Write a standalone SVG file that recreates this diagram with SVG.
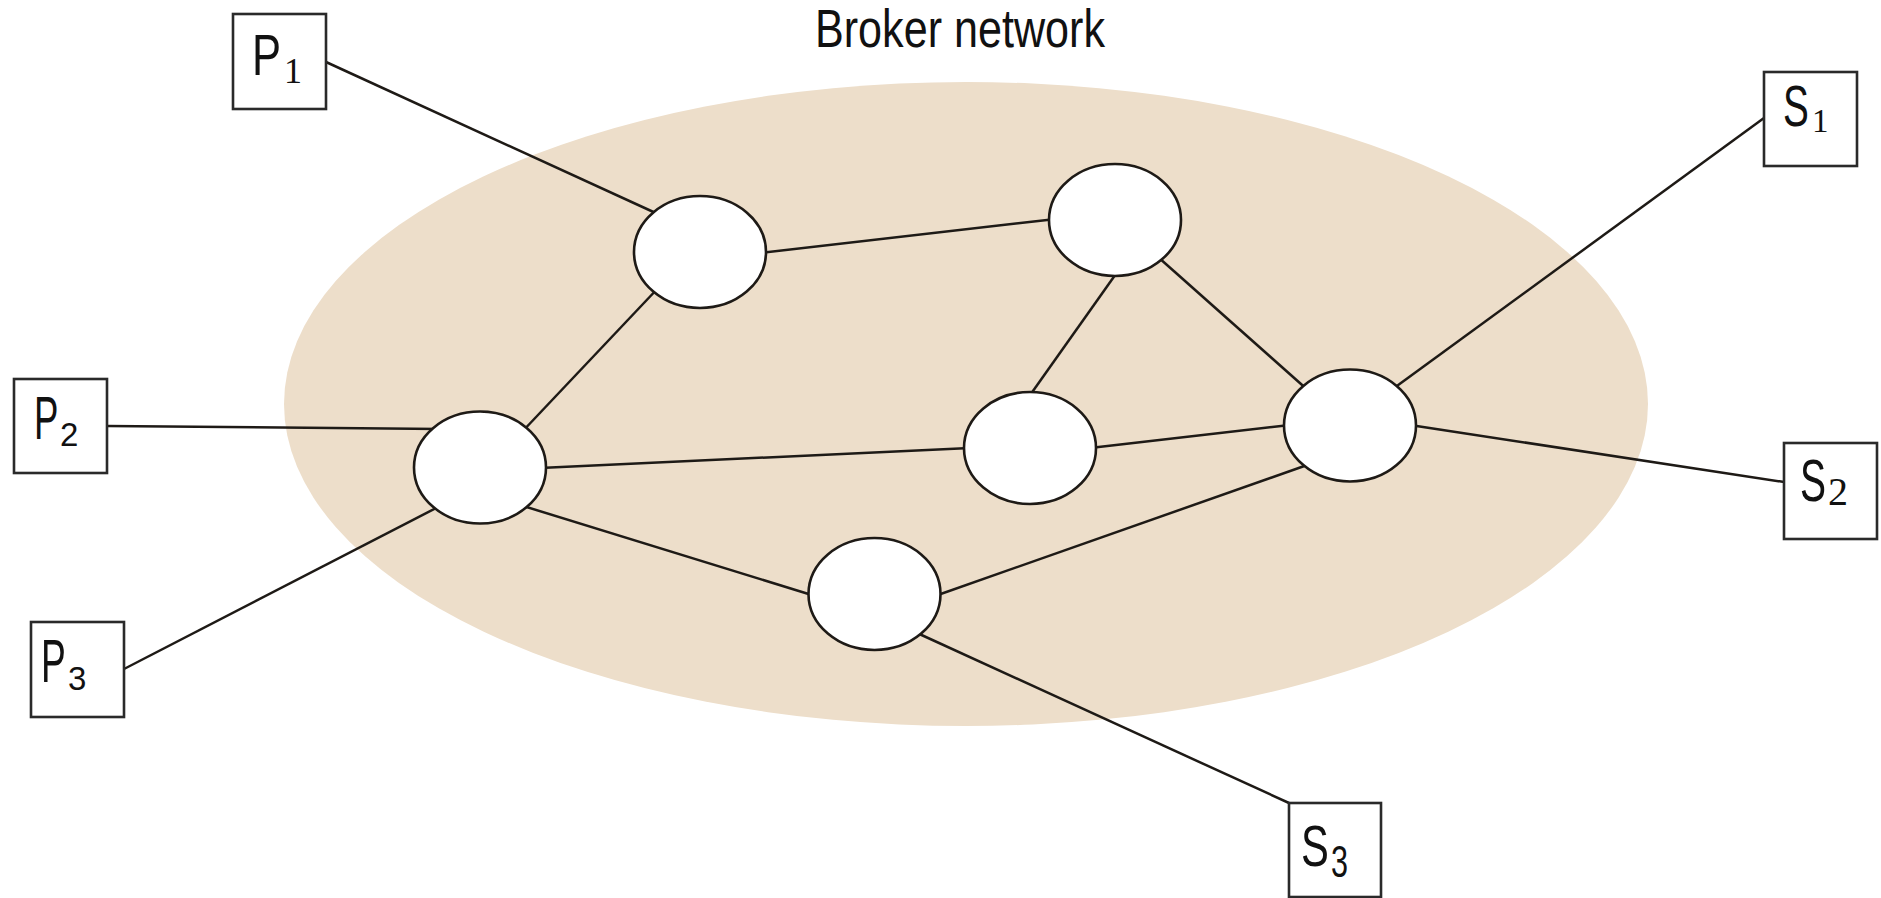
<svg xmlns="http://www.w3.org/2000/svg" width="1881" height="898" viewBox="0 0 1881 898">
  <style>
    .bg { fill: #EDDECA; }
    .broker { fill: #ffffff; stroke: #1e1a16; stroke-width: 2.6; }
    .box { fill: #ffffff; stroke: #2a2a2a; stroke-width: 2.6; }
    .edge { stroke: #1e1a16; stroke-width: 2.5; fill: none; }
    .lbl { font-family: "Liberation Sans", Arial, sans-serif; fill: #111; }
    .serif { font-family: "Liberation Serif", "Times New Roman", serif; fill: #111; }
    .title { font-family: "Liberation Sans", Arial, sans-serif; font-size: 53px; fill: #111; }
  </style>
  <rect x="0" y="0" width="1881" height="898" fill="#ffffff"/>
  <ellipse class="bg" cx="966" cy="404" rx="682" ry="322"/>
  <text class="title" x="815" y="47" textLength="290" lengthAdjust="spacingAndGlyphs">Broker network</text>

  <g id="connectors">
    <line class="edge" x1="326" y1="62" x2="660" y2="215"/>
    <line class="edge" x1="760" y1="253" x2="1056" y2="219"/>
    <line class="edge" x1="660" y1="286" x2="520" y2="434"/>
    <line class="edge" x1="107" y1="426" x2="440" y2="429"/>
    <line class="edge" x1="540" y1="468" x2="970" y2="448"/>
    <line class="edge" x1="440" y1="506" x2="124" y2="669"/>
    <line class="edge" x1="520" y1="505" x2="815" y2="596"/>
    <line class="edge" x1="1118" y1="271" x2="1028" y2="398"/>
    <line class="edge" x1="1158" y1="257" x2="1310" y2="392"/>
    <line class="edge" x1="1090" y1="448" x2="1290" y2="425"/>
    <line class="edge" x1="935" y1="596" x2="1310" y2="464"/>
    <line class="edge" x1="1390" y1="391" x2="1764" y2="118"/>
    <line class="edge" x1="1410" y1="425" x2="1784" y2="482"/>
    <line class="edge" x1="915" y1="632" x2="1289" y2="803"/>
  </g>

  <g id="broker-a"><ellipse class="broker" cx="700" cy="252" rx="66" ry="56"/></g>
  <g id="broker-b"><ellipse class="broker" cx="1115" cy="220" rx="66" ry="56"/></g>
  <g id="broker-c"><ellipse class="broker" cx="1030" cy="448" rx="66" ry="56"/></g>
  <g id="broker-d"><ellipse class="broker" cx="1350" cy="425.5" rx="66" ry="56"/></g>
  <g id="broker-e"><ellipse class="broker" cx="480" cy="467.5" rx="66" ry="56"/></g>
  <g id="broker-f"><ellipse class="broker" cx="874.5" cy="594" rx="66" ry="56"/></g>

  <g id="p1">
    <rect class="box" x="233" y="14" width="93" height="95"/>
    <text class="lbl" font-size="58" transform="translate(252,75) scale(0.75,1)">P</text>
    <text class="serif" font-size="36" x="284" y="83">1</text>
  </g>
  <g id="p2">
    <rect class="box" x="14" y="379" width="93" height="94"/>
    <text class="lbl" font-size="61" transform="translate(34,439) scale(0.6,1)">P</text>
    <text class="lbl" font-size="33" x="60" y="446">2</text>
  </g>
  <g id="p3">
    <rect class="box" x="31" y="622" width="93" height="95"/>
    <text class="lbl" font-size="62" transform="translate(41,682) scale(0.6,1)">P</text>
    <text class="lbl" font-size="33" x="68" y="690">3</text>
  </g>
  <g id="s1">
    <rect class="box" x="1764" y="72" width="93" height="94"/>
    <text class="lbl" font-size="57" transform="translate(1783,126) scale(0.68,1)">S</text>
    <text class="serif" font-size="33" x="1812" y="132">1</text>
  </g>
  <g id="s2">
    <rect class="box" x="1784" y="443" width="93" height="96"/>
    <text class="lbl" font-size="60" transform="translate(1800,501) scale(0.65,1)">S</text>
    <text class="serif" font-size="40" x="1828" y="505">2</text>
  </g>
  <g id="s3">
    <rect class="box" x="1289" y="803" width="92" height="94"/>
    <text class="lbl" font-size="58" transform="translate(1301,866) scale(0.72,1)">S</text>
    <text class="lbl" font-size="45" transform="translate(1331,877) scale(0.68,1)">3</text>
  </g>
</svg>
